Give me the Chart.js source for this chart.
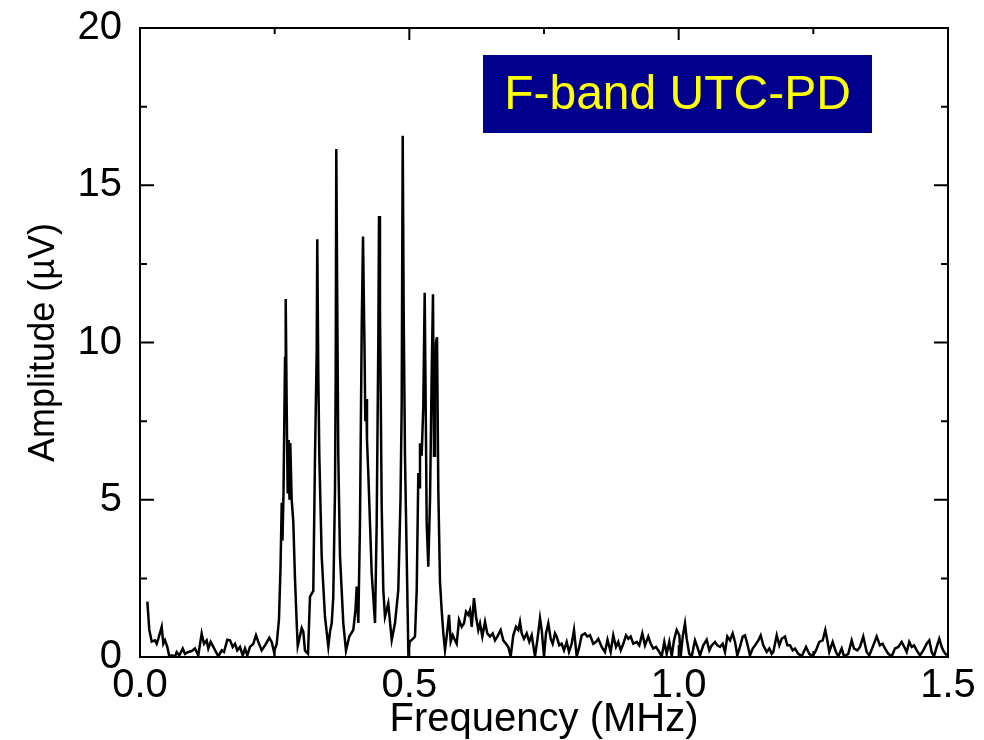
<!DOCTYPE html>
<html>
<head>
<meta charset="utf-8">
<title>F-band UTC-PD spectrum</title>
<script src="https://cdn.jsdelivr.net/npm/chart.js@4/dist/chart.umd.min.js"></script>
<style>
  html, body { margin: 0; padding: 0; background: #fff; }
  #wrap { width: 984px; height: 740px; }
</style>
</head>
<body>
<div id="wrap"><canvas id="spec" width="984" height="740"></canvas></div>
<script>
// Frequency (MHz) and amplitude (uV)
const freqMHz = [
  0.0136,0.0173,0.0217,0.0278,0.0310,0.0340,0.0403,0.0433,0.0464,0.0507,
  0.0544,0.0588,0.0650,0.0681,0.0730,0.0793,0.0835,0.0897,0.0960,0.1021,
  0.1082,0.1145,0.1188,0.1238,0.1268,0.1312,0.1361,0.1411,0.1454,0.1517,
  0.1559,0.1621,0.1671,0.1721,0.1764,0.1806,0.1856,0.1907,0.1949,0.1992,
  0.2042,0.2103,0.2153,0.2196,0.2259,0.2321,0.2400,0.2445,0.2488,0.2538,
  0.2580,0.2608,0.2631,0.2645,0.2664,0.2692,0.2705,0.2723,0.2742,0.2760,
  0.2775,0.2790,0.2816,0.2846,0.2877,0.2909,0.2928,0.2961,0.3002,0.3032,
  0.3063,0.3119,0.3156,0.3217,0.3249,0.3280,0.3291,0.3310,0.3329,0.3373,
  0.3434,0.3496,0.3527,0.3559,0.3588,0.3620,0.3633,0.3644,0.3663,0.3681,
  0.3713,0.3774,0.3824,0.3885,0.3960,0.4000,0.4023,0.4053,0.4084,0.4116,
  0.4140,0.4168,0.4183,0.4201,0.4214,0.4238,0.4301,0.4363,0.4394,0.4424,
  0.4437,0.4455,0.4487,0.4517,0.4548,0.4609,0.4673,0.4734,0.4795,0.4836,
  0.4858,0.4877,0.4895,0.4919,0.4951,0.4981,0.5012,0.5044,0.5105,0.5137,
  0.5167,0.5186,0.5198,0.5229,0.5259,0.5285,0.5304,0.5322,0.5352,0.5384,
  0.5415,0.5439,0.5458,0.5476,0.5495,0.5514,0.5538,0.5569,0.5600,0.5631,
  0.5662,0.5693,0.5736,0.5768,0.5805,0.5848,0.5879,0.5922,0.5972,0.6015,
  0.6052,0.6095,0.6126,0.6158,0.6200,0.6238,0.6280,0.6312,0.6355,0.6405,
  0.6447,0.6497,0.6548,0.6590,0.6633,0.6696,0.6744,0.6794,0.6837,0.6882,
  0.6930,0.6980,0.7023,0.7054,0.7086,0.7129,0.7179,0.7227,0.7272,0.7333,
  0.7376,0.7426,0.7457,0.7500,0.7537,0.7580,0.7624,0.7661,0.7704,0.7735,
  0.7784,0.7828,0.7871,0.7921,0.7964,0.8014,0.8057,0.8107,0.8155,0.8200,
  0.8261,0.8304,0.8354,0.8415,0.8465,0.8508,0.8571,0.8632,0.8679,0.8738,
  0.8786,0.8836,0.8879,0.8924,0.8972,0.9022,0.9065,0.9109,0.9158,0.9221,
  0.9269,0.9325,0.9375,0.9436,0.9481,0.9529,0.9579,0.9640,0.9685,0.9733,
  0.9778,0.9826,0.9871,0.9913,0.9963,1.0012,1.0038,1.0075,1.0117,1.0149,
  1.0197,1.0242,1.0303,1.0346,1.0396,1.0457,1.0520,1.0569,1.0613,1.0674,
  1.0717,1.0767,1.0817,1.0860,1.0903,1.0953,1.1003,1.1046,1.1088,1.1138,
  1.1189,1.1231,1.1274,1.1324,1.1375,1.1417,1.1479,1.1523,1.1571,1.1634,
  1.1683,1.1728,1.1757,1.1820,1.1868,1.1912,1.1974,1.2017,1.2067,1.2117,
  1.2159,1.2221,1.2284,1.2364,1.2425,1.2488,1.2549,1.2611,1.2674,1.2722,
  1.2759,1.2796,1.2859,1.2920,1.2963,1.3027,1.3069,1.3149,1.3212,1.3255,
  1.3316,1.3366,1.3427,1.3490,1.3539,1.3602,1.3676,1.3737,1.3787,1.3830,
  1.3892,1.3954,1.4016,1.4077,1.4140,1.4189,1.4233,1.4281,1.4326,1.4369,
  1.4419,1.4480,1.4541,1.4604,1.4653,1.4697,1.4740,1.4790,1.4838,1.4883,
  1.4926,1.4976
];
const ampUV = [
  1.76,0.86,0.49,0.53,0.42,0.58,0.96,0.42,0.53,0.32,
  0.02,0.05,0.02,0.16,0.05,0.27,0.10,0.16,0.19,0.27,
  0.05,0.75,0.42,0.53,0.27,0.48,0.32,0.16,0.02,0.21,
  0.16,0.55,0.53,0.32,0.42,0.21,0.32,0.05,0.27,0.05,
  0.32,0.42,0.69,0.48,0.21,0.37,0.61,0.48,0.16,0.42,
  1.20,2.80,4.90,3.70,5.20,9.50,11.38,8.00,5.20,6.90,
  5.00,6.80,5.00,4.30,2.50,1.08,0.35,0.60,0.92,0.80,
  0.20,0.10,1.92,2.10,6.40,9.70,13.28,9.00,6.40,3.20,
  1.28,0.33,0.80,1.08,1.90,5.30,9.00,16.15,11.00,6.40,
  3.20,1.08,0.20,0.65,0.86,1.50,2.24,1.08,4.26,10.50,
  13.37,9.80,7.50,8.20,6.90,5.85,2.67,1.08,4.26,10.00,
  14.02,11.00,4.78,2.13,1.28,1.70,0.54,1.08,2.13,5.00,
  8.00,16.57,11.00,6.40,3.20,0.22,0.50,0.54,0.65,2.13,
  5.85,5.40,6.80,6.40,7.96,11.58,8.00,4.26,2.87,5.00,
  9.00,11.53,6.40,8.50,10.00,10.17,5.30,2.40,1.50,0.76,
  0.22,0.65,1.34,0.49,0.69,0.53,0.42,1.18,0.96,1.07,
  1.44,1.34,1.49,0.96,1.87,1.28,0.86,1.07,0.65,1.12,
  0.75,0.65,0.75,0.53,0.65,0.86,0.53,0.42,0.32,0.02,
  0.69,0.96,0.86,1.12,0.75,0.58,0.75,0.48,0.69,0.02,
  0.53,1.23,0.86,0.02,0.75,1.07,0.58,0.42,0.75,0.65,
  0.37,0.42,0.21,0.48,0.16,0.42,0.86,0.02,0.32,0.69,
  0.75,0.65,0.69,0.42,0.48,0.58,0.32,0.16,0.55,0.16,
  0.69,0.32,0.48,0.21,0.42,0.69,0.58,0.65,0.42,0.48,
  0.37,0.75,0.37,0.65,0.42,0.27,0.32,0.16,0.02,0.48,
  0.10,0.48,0.02,0.53,0.86,0.69,0.02,0.65,1.07,0.58,
  0.10,0.02,0.53,0.32,0.05,0.37,0.55,0.21,0.37,0.48,
  0.37,0.32,0.42,0.16,0.65,0.53,0.75,0.48,0.05,0.32,
  0.65,0.69,0.42,0.05,0.27,0.37,0.53,0.69,0.37,0.16,
  0.27,0.10,0.16,0.69,0.37,0.58,0.65,0.37,0.37,0.21,
  0.27,0.10,0.02,0.32,0.10,0.02,0.21,0.48,0.53,0.86,
  0.53,0.16,0.48,0.16,0.02,0.27,0.02,0.10,0.53,0.27,
  0.21,0.32,0.65,0.16,0.05,0.32,0.65,0.37,0.42,0.27,
  0.10,0.02,0.27,0.32,0.48,0.32,0.16,0.48,0.32,0.37,
  0.21,0.05,0.21,0.42,0.53,0.16,0.02,0.32,0.58,0.32,
  0.16,0.05
];

// axis ticks
const xMajorTicks = [0.5, 1.0];
const xMinorTicks = [0.25, 0.75, 1.25];
const yMajorTicks = [5, 10, 15];
const yMinorTicks = [2.5, 7.5, 12.5, 17.5];

const boxLabel = 'F-band UTC-PD';
const FONT = 'Arial, "Liberation Sans", sans-serif';

// frame with inward ticks on all four sides + label box
const frameTicks = {
  id: 'frameTicks',
  afterDatasetsDraw(chart) {
    const { ctx, chartArea: a, scales: { x, y } } = chart;
    ctx.save();
    ctx.strokeStyle = '#000';
    ctx.lineWidth = 2;
    ctx.strokeRect(a.left, a.top, a.right - a.left, a.bottom - a.top);

    ctx.beginPath();
    const xt = (v, len) => {
      const px = x.getPixelForValue(v);
      ctx.moveTo(px, a.bottom); ctx.lineTo(px, a.bottom - len);
      ctx.moveTo(px, a.top); ctx.lineTo(px, a.top + len);
    };
    const yt = (v, len) => {
      const py = y.getPixelForValue(v);
      ctx.moveTo(a.left, py); ctx.lineTo(a.left + len, py);
      ctx.moveTo(a.right, py); ctx.lineTo(a.right - len, py);
    };
    xMajorTicks.forEach(v => xt(v, 12));
    xMinorTicks.forEach(v => xt(v, 6));
    yMajorTicks.forEach(v => yt(v, 14));
    yMinorTicks.forEach(v => yt(v, 7));
    ctx.stroke();

    // title box
    const bw = 389, bh = 78;
    const bx = a.right - 76 - bw, by = a.top + 27;
    ctx.fillStyle = '#00008c';
    ctx.fillRect(bx, by, bw, bh);
    ctx.fillStyle = '#ffff00';
    ctx.font = '48px ' + FONT;
    ctx.textAlign = 'center';
    ctx.textBaseline = 'middle';
    ctx.fillText(boxLabel, bx + bw / 2, by + bh / 2 + 2);
    ctx.restore();
  }
};

new Chart(document.getElementById('spec'), {
  type: 'scatter',
  data: {
    datasets: [{
      data: freqMHz.map((f, i) => ({ x: f, y: ampUV[i] })),
      showLine: true,
      borderColor: '#000',
      borderWidth: 2.5,
      pointRadius: 0,
      tension: 0
    }]
  },
  options: {
    responsive: false,
    animation: false,
    layout: { padding: { top: 28, right: 36, left: 22, bottom: 0 } },
    plugins: { legend: { display: false }, tooltip: { enabled: false } },
    scales: {
      x: {
        type: 'linear',
        min: 0, max: 1.5,
        afterFit: s => { s.height = 83; s.paddingLeft = 0; s.paddingRight = 0; },
        grid: { display: false },
        border: { display: false },
        ticks: {
          stepSize: 0.5,
          color: '#000',
          padding: -3,
          maxRotation: 0,
          font: { family: FONT, size: 40 },
          callback: v => v.toFixed(1)
        },
        title: {
          display: true,
          text: 'Frequency (MHz)',
          color: '#000',
          padding: { top: 0, bottom: -4 },
          font: { family: FONT, size: 40 }
        }
      },
      y: {
        min: 0, max: 20,
        afterFit: s => { s.width = 118; s.paddingTop = 0; s.paddingBottom = 0; },
        grid: { display: false },
        border: { display: false },
        ticks: {
          stepSize: 5,
          color: '#000',
          padding: 10,
          font: { family: FONT, size: 40 }
        },
        title: {
          display: true,
          text: 'Amplitude (µV)',
          color: '#000',
          padding: { top: 0, bottom: 0 },
          font: { family: FONT, size: 36 }
        }
      }
    }
  },
  plugins: [frameTicks]
});
</script>
</body>
</html>
